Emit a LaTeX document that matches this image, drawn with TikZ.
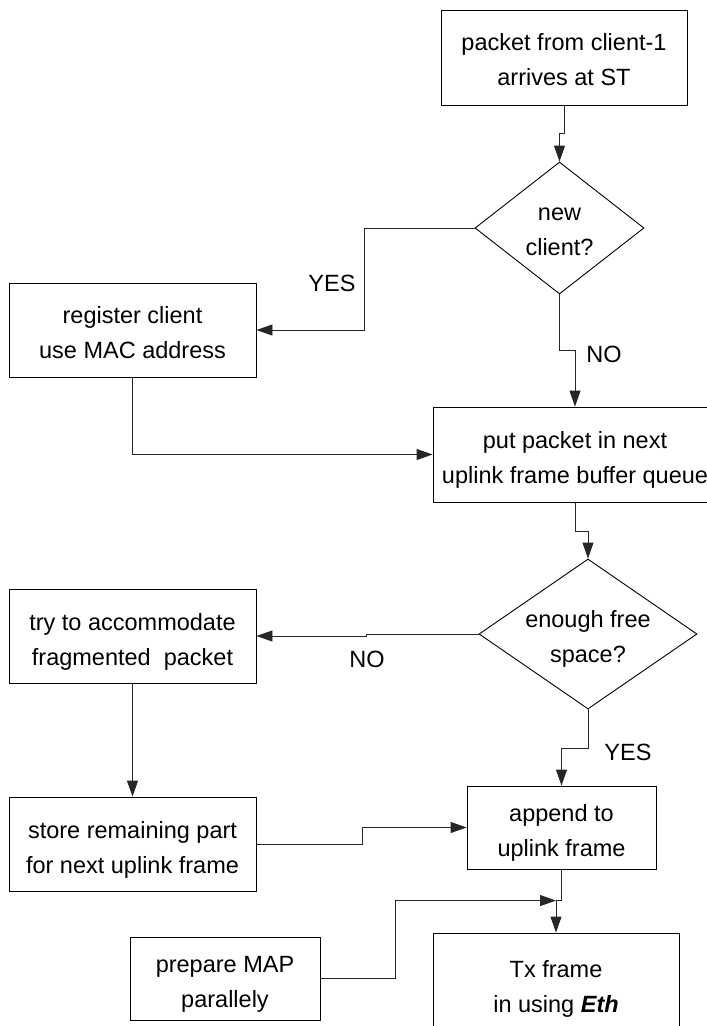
\documentclass[tikz,border=0pt]{standalone}
\usepackage{fontspec}
\setmainfont{Liberation Sans}
\usetikzlibrary{arrows.meta,shapes.geometric,calc}

\begin{document}
\begin{tikzpicture}[x=1pt,y=-1pt,
  every node/.style={font=\fontsize{23.5pt}{35pt}\selectfont, align=center, inner sep=0pt},
  procbox/.style={draw=black, line width=0.9pt, rectangle, text height=63pt, text depth=5pt},
  highbox/.style={text height=61pt, text depth=5pt},
  decision/.style={draw=black, line width=0.9pt, diamond},
  flow/.style={draw=black!85, line width=0.9pt, -{Triangle[length=16pt,width=11pt]}},
  link/.style={draw=black!85, line width=0.9pt}]

  \useasboundingbox (0,0) rectangle (707,1026);
  \clip (0,0) rectangle (707,1026);

  % process boxes
  \node[procbox, highbox, minimum width=246pt, minimum height=95pt] (src) at (564,57.5)
    {packet from client-1\\arrives at ST};
  \node[procbox, highbox, minimum width=247pt, minimum height=94pt] (reg) at (132.5,330)
    {register client\\use MAC address};
  \node[procbox, minimum width=284pt, minimum height=95pt] (put) at (575,454.5)
    {put packet in next\\uplink frame buffer queue};
  \node[procbox, minimum width=247pt, minimum height=94pt] (try) at (132.5,636)
    {try to accommodate\\fragmented\ \ packet};
  \node[procbox, minimum width=247pt, minimum height=94pt] (store) at (132.5,844)
    {store remaining part\\for next uplink frame};
  \node[procbox, minimum width=189pt, minimum height=83pt] (app) at (561.5,827.5)
    {append to\\uplink frame};
  \node[procbox, minimum width=190pt, minimum height=83pt] (prep) at (225,978.5)
    {prepare MAP\\parallely};
  \node[procbox, highbox, minimum width=246pt, minimum height=102pt] (tx) at (556,984)
    {Tx frame\\in using \textbf{\textit{Eth}}};

  % decisions
  \node[decision, shape aspect=1.28, minimum width=169pt, minimum height=132pt,
        text height=54pt, text depth=-14pt] (newc) at (559.5,228)
    {new\\client?};
  \node[decision, shape aspect=1.45, minimum width=218pt, minimum height=150pt,
        text height=57.5pt, text depth=-17.5pt] (space) at (588,634)
    {enough free\\space?};

  % branch labels
  \node (yes1) at (332,283) {YES};
  \node (no1) at (604,354) {NO};
  \node (no2) at (367,659) {NO};
  \node (yes2) at (628,752) {YES};

  % junction above the transmit box
  \coordinate (join) at ($(tx.north)+(0,-32)$);

  % connectors
  \draw[flow] (src.south) -- ++(0,28) -| (newc.north);
  \draw[flow] (newc.west) -- ++(-110,0) |- (reg.east);
  \draw[flow] (newc.south) -- ++(0,56) -| (put.north);
  \draw[flow] (reg.south) |- (put.west);
  \draw[flow] (put.south) -- ++(0,29) -| (space.north);
  \draw[flow] (space.west) -- ++(-112,0) |- (try.east);
  \draw[flow] (space.south) -- ++(0,39) -| (app.north);
  \draw[flow] (try.south) -- (store.north);
  \draw[flow] (store.east) -- ++(106,0) |- (app.west);
  \draw[link] (app.south) |- (join);
  \draw[flow] (prep.east) -- ++(75,0) |- (join);
  \draw[flow] (join) -- (tx.north);
\end{tikzpicture}
\end{document}
